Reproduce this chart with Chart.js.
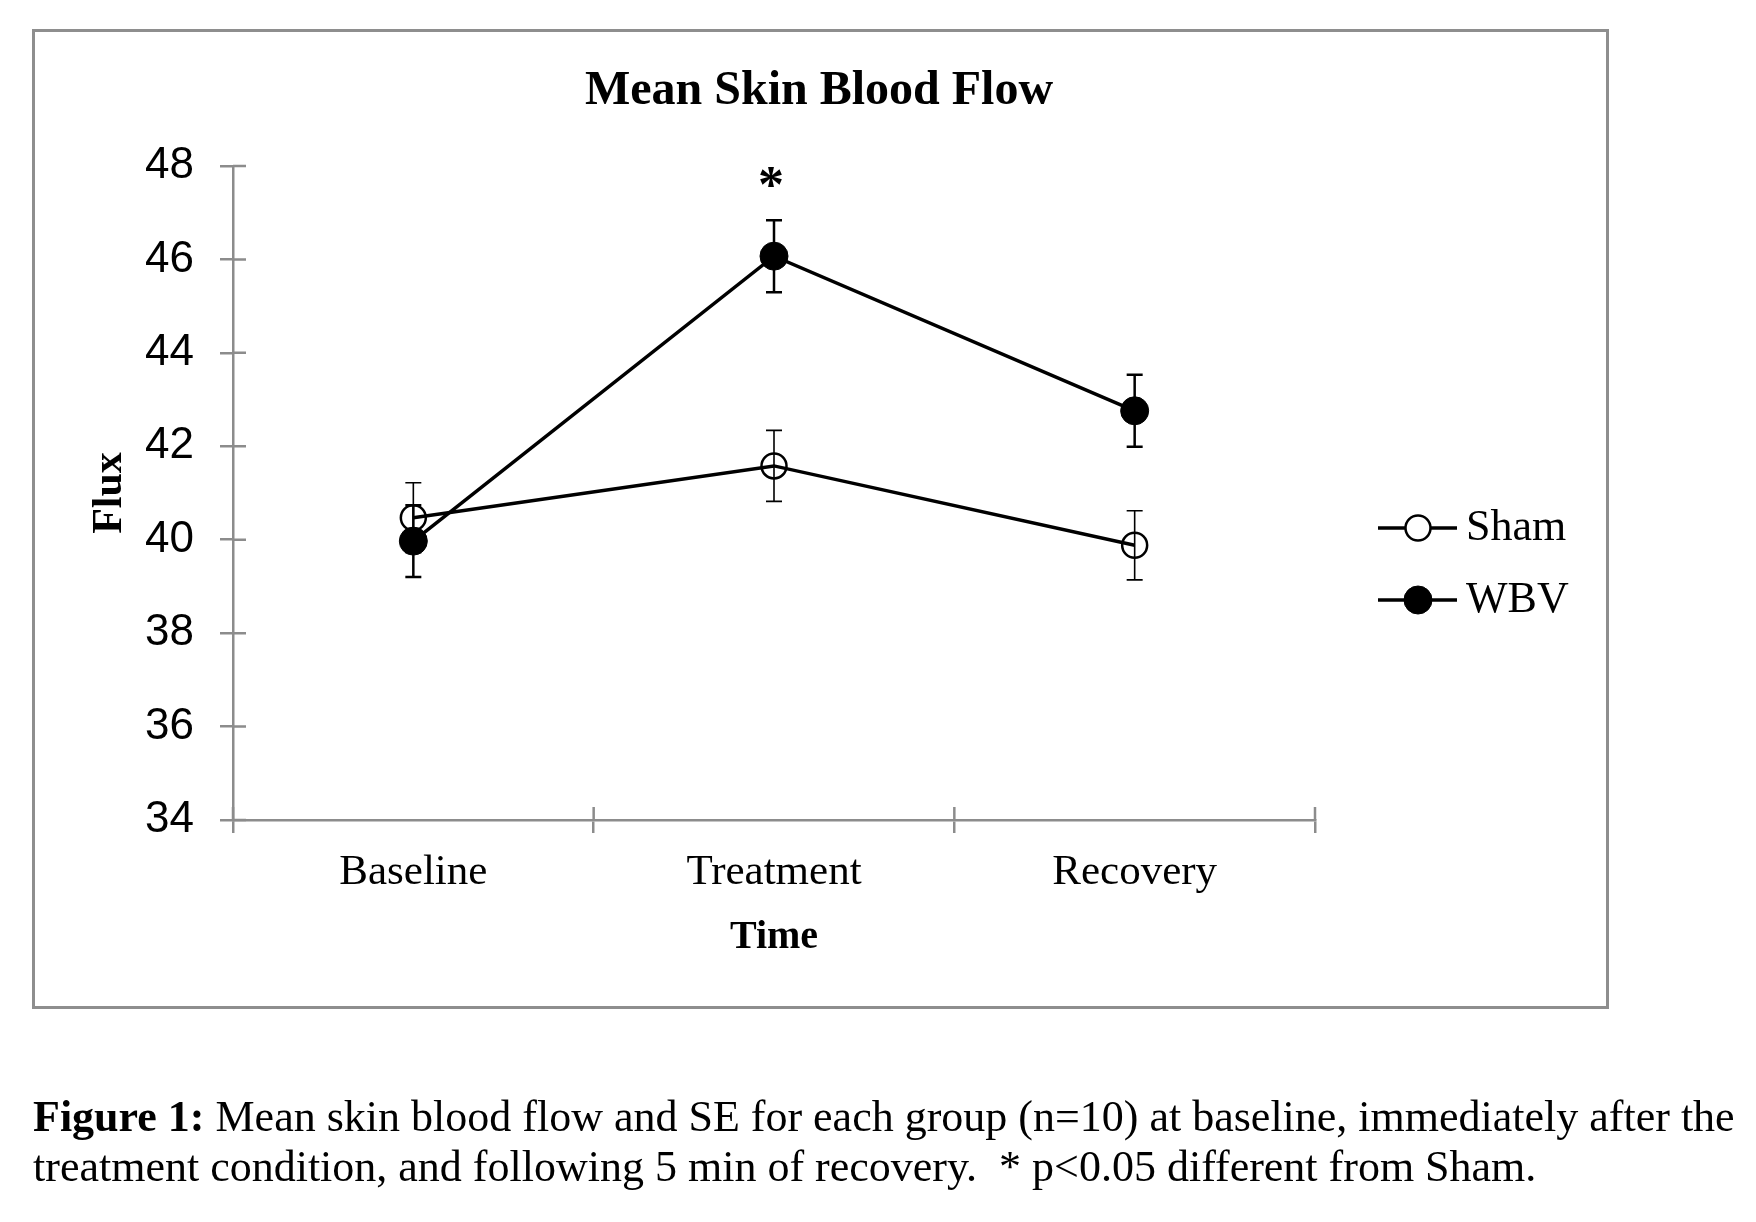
<!DOCTYPE html>
<html>
<head>
<meta charset="utf-8">
<title>Mean Skin Blood Flow</title>
<script src="https://cdn.jsdelivr.net/npm/chart.js@4"></script>
<style>
  html, body { margin: 0; padding: 0; background: #fff; }
  #wrap { position: relative; width: 1756px; height: 1222px; overflow: hidden; }
  #chart { position: absolute; left: 0; top: 0; }
  #frame {
    position: absolute; left: 32px; top: 29px; width: 1577px; height: 980px;
    border: 3px solid #8e8e8e; box-sizing: border-box; pointer-events: none;
  }
  #caption {
    position: absolute; left: 33px; top: 1092px; white-space: nowrap;
    font-family: 'Liberation Serif', 'Times New Roman', serif; font-size: 44px;
    line-height: 50px; color: #000;
  }
</style>
</head>
<body>
<div id="wrap">
  <canvas id="chart" width="1756" height="1222"></canvas>
  <div id="frame"></div>
  <div id="caption"><b>Figure 1:</b> Mean skin blood flow and SE for each group (n=10) at baseline, immediately after the<br>treatment condition, and following 5 min of recovery.&nbsp; * p&lt;0.05 different from Sham.</div>
</div>
<script>
var timePoints = ['Baseline', 'Treatment', 'Recovery'];
var shamMean = [40.47, 41.58, 39.88];
var shamSE = [0.75, 0.76, 0.74];
var wbvMean = [39.97, 46.07, 42.76];
var wbvSE = [0.77, 0.77, 0.77];
var sigMarks = ['', '*', ''];
var chartTitle = 'Mean Skin Blood Flow';

var serif = "'Liberation Serif', 'Times New Roman', serif";
var sans = "'Liberation Sans', Arial, sans-serif";
var axisGrey = '#8c8c8c';

// SE bars, drawn from the scales so they sit under the markers
var errorBars = {
    id: 'errorBars',
    beforeDatasetsDraw: function(chart) {
        var ctx = chart.ctx;
        var y = chart.scales.y;
        chart.data.datasets.forEach(function(ds, i) {
            var meta = chart.getDatasetMeta(i);
            ctx.save();
            ctx.strokeStyle = '#000';
            ctx.lineWidth = ds.errorWidth;
            meta.data.forEach(function(pt, j) {
                var top = y.getPixelForValue(ds.data[j] + ds.se[j]);
                var bot = y.getPixelForValue(ds.data[j] - ds.se[j]);
                ctx.beginPath();
                ctx.moveTo(pt.x, top); ctx.lineTo(pt.x, bot);
                ctx.moveTo(pt.x - 8, top); ctx.lineTo(pt.x + 8, top);
                ctx.moveTo(pt.x - 8, bot); ctx.lineTo(pt.x + 8, bot);
                ctx.stroke();
            });
            ctx.restore();
        });
    },
    afterDatasetsDraw: function(chart) {
        // significance marks above the WBV bars
        var ctx = chart.ctx;
        var y = chart.scales.y;
        var meta = chart.getDatasetMeta(1);
        ctx.save();
        ctx.fillStyle = '#000';
        ctx.font = 'bold 52px ' + serif;
        ctx.textAlign = 'center';
        ctx.textBaseline = 'alphabetic';
        sigMarks.forEach(function(m, j) {
            if (!m) return;
            var top = y.getPixelForValue(wbvMean[j] + wbvSE[j]);
            ctx.fillText(m, meta.data[j].x - 3, top - 18);
        });
        ctx.restore();
    }
};

// tick marks that cross the axis line (inner half)
var crossTicks = {
    id: 'crossTicks',
    afterDraw: function(chart) {
        var ctx = chart.ctx;
        var x = chart.scales.x, y = chart.scales.y;
        var area = chart.chartArea;
        ctx.save();
        ctx.strokeStyle = axisGrey;
        ctx.lineWidth = 2.5;
        ctx.beginPath();
        y.ticks.forEach(function(t) {
            var py = y.getPixelForValue(t.value);
            ctx.moveTo(area.left, py); ctx.lineTo(area.left + 13, py);
        });
        var n = timePoints.length;
        for (var i = 0; i <= n; i++) {
            var px = x.left + i * (x.right - x.left) / n;
            ctx.moveTo(px, area.bottom); ctx.lineTo(px, area.bottom - 13);
        }
        ctx.stroke();
        ctx.restore();
    }
};

// title centred over the framed figure, and legend on the right
var sideLegend = {
    id: 'sideLegend',
    afterDraw: function(chart) {
        var ctx = chart.ctx;
        ctx.save();
        ctx.fillStyle = '#000';
        ctx.font = 'bold 48px ' + serif;
        ctx.textAlign = 'center';
        ctx.textBaseline = 'middle';
        ctx.fillText(chartTitle, 819, 92);
        ctx.restore();

        chart.data.datasets.forEach(function(ds, i) {
            var ly = 528 + i * 72;
            ctx.save();
            ctx.strokeStyle = '#000';
            ctx.lineWidth = 3.5;
            ctx.beginPath();
            ctx.moveTo(1378, ly); ctx.lineTo(1457, ly);
            ctx.stroke();
            ctx.beginPath();
            ctx.arc(1418, ly, ds.pointRadius, 0, Math.PI * 2);
            ctx.fillStyle = ds.pointBackgroundColor === 'transparent' ? '#fff' : ds.pointBackgroundColor;
            ctx.fill();
            ctx.lineWidth = ds.pointBorderWidth;
            ctx.stroke();
            ctx.fillStyle = '#000';
            ctx.font = '44px ' + serif;
            ctx.textAlign = 'left';
            ctx.textBaseline = 'middle';
            ctx.fillText(ds.label, 1466, ly);
            ctx.restore();
        });
    }
};

var ctxEl = document.getElementById('chart');
var flowChart = new Chart(ctxEl, {
    type: 'line',
    data: {
        labels: timePoints,
        datasets: [{
            label: 'Sham',
            data: shamMean,
            se: shamSE,
            errorWidth: 1.6,
            borderColor: '#000',
            borderWidth: 3.5,
            pointRadius: 12.5,
            pointHoverRadius: 12.5,
            pointBorderWidth: 2.5,
            pointBorderColor: '#000',
            pointBackgroundColor: 'transparent',
            tension: 0
        }, {
            label: 'WBV',
            data: wbvMean,
            se: wbvSE,
            errorWidth: 2.5,
            borderColor: '#000',
            borderWidth: 3.5,
            pointRadius: 14,
            pointHoverRadius: 14,
            pointBorderWidth: 1,
            pointBorderColor: '#000',
            pointBackgroundColor: '#000',
            tension: 0
        }]
    },
    options: {
        responsive: false,
        animation: false,
        devicePixelRatio: 1,
        events: [],
        layout: { padding: { left: 0, right: 441, top: 166, bottom: 222 } },
        plugins: {
            legend: { display: false },
            tooltip: { enabled: false },
            title: { display: false }
        },
        scales: {
            x: {
                type: 'category',
                offset: true,
                grid: { display: true, offset: true, drawOnChartArea: false, drawTicks: true, tickLength: 13, color: axisGrey, lineWidth: 2.5 },
                border: { display: true, color: axisGrey, width: 2.5 },
                ticks: { color: '#000', font: { family: serif, size: 43 }, padding: 14, maxRotation: 0 },
                title: { display: true, text: 'Time', color: '#000', font: { family: serif, size: 40, weight: 'bold' }, padding: { top: 0, bottom: 38 } },
                afterFit: function(s) { s.height = 180; }
            },
            y: {
                min: 34,
                max: 48,
                grid: { display: true, drawOnChartArea: false, drawTicks: true, tickLength: 13, color: axisGrey, lineWidth: 2.5 },
                border: { display: true, color: axisGrey, width: 2.5 },
                ticks: { stepSize: 2, color: '#000', font: { family: sans, size: 44 }, padding: 26 },
                title: { display: true, text: 'Flux', color: '#000', font: { family: serif, size: 42, weight: 'bold' }, padding: { top: 85, bottom: 0 } },
                afterFit: function(s) { s.width = 233; }
            }
        }
    },
    plugins: [errorBars, crossTicks, sideLegend]
});
</script>
</body>
</html>
